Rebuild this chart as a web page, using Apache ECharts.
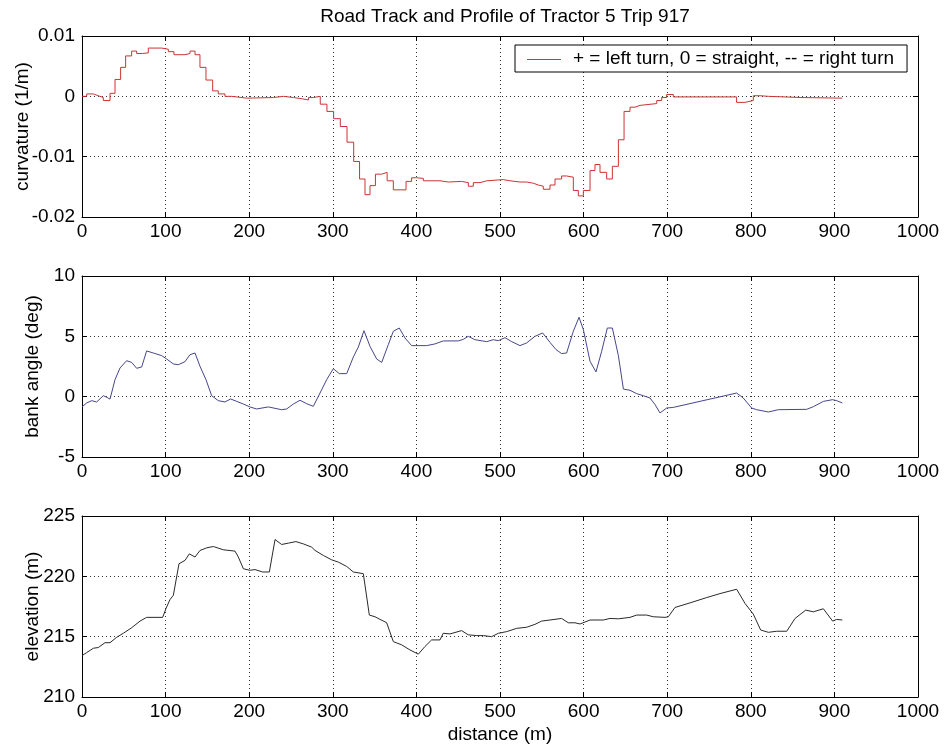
<!DOCTYPE html>
<html>
<head>
<meta charset="utf-8">
<script src="https://cdn.jsdelivr.net/npm/echarts@6/dist/echarts.min.js"></script>
<style>
html,body{margin:0;padding:0;background:#fff;}
#c{width:945px;height:752px;}
</style>
</head>
<body>
<div id="c"></div>
<script>
// ---- data ----
var curvDist = [0, 5.6, 13.6, 19.5, 25.5, 33.5, 39.5, 46.2, 52.2, 59.4, 65.4, 72.2, 79.3, 95.3, 103.3, 110, 123.2, 129.2, 135.2, 141.1, 148.3, 156.3, 163, 171, 179, 197, 229, 241, 253, 263, 271, 277, 285, 293, 301, 309, 317, 325, 332, 338.5, 344.5, 351, 358.5, 365, 372.4, 387.6, 394.3, 400.3, 408.3, 428.2, 438.2, 454.1, 462.1, 468.1, 476.1, 484.1, 503.9, 511.9, 523.9, 531.8, 539.8, 545.8, 551.8, 559.8, 565.8, 573.7, 579.7, 587.7, 593.7, 599.7, 607.7, 613.6, 619.6, 627.6, 634.4, 641.6, 648.4, 655.5, 661.5, 667.5, 687.5, 693.4, 699.4, 707.3, 783, 793, 803, 811, 821, 860, 909.5];
var curvVal = [0.0000, 0.0004, 0.0001, -0.0002, -0.0007, 0.0005, 0.0028, 0.0048, 0.0067, 0.0075, 0.0071, 0.0072, 0.0080, 0.0078, 0.0074, 0.0069, 0.0071, 0.0075, 0.0069, 0.0048, 0.0027, 0.0009, 0.0004, 0.0000, -0.0003, -0.0002, 0.0000, -0.0002, -0.0004, -0.0006, -0.0002, 0.0000, -0.0013, -0.0025, -0.0037, -0.0050, -0.0076, -0.0108, -0.0137, -0.0163, -0.0148, -0.0129, -0.0126, -0.0140, -0.0155, -0.0141, -0.0135, -0.0136, -0.0140, -0.0142, -0.0141, -0.0143, -0.0149, -0.0143, -0.0140, -0.0138, -0.0140, -0.0142, -0.0142, -0.0144, -0.0147, -0.0149, -0.0154, -0.0147, -0.0137, -0.0132, -0.0134, -0.0156, -0.0165, -0.0156, -0.0123, -0.0113, -0.0126, -0.0137, -0.0116, -0.0072, -0.0025, -0.0018, -0.0015, -0.0012, -0.0007, -0.0002, 0.0003, -0.0001, -0.0010, -0.0007, 0.0001, 0.0000, -0.0002, -0.0003, -0.0003];

var bankDist = [0, 5.6, 11.6, 17.5, 25.5, 29.5, 33.5, 39.5, 45.5, 53.4, 59.4, 65.4, 71.4, 77.3, 85.3, 95.3, 101.3, 109.3, 115.2, 123.2, 129.2, 135.2, 141.1, 148.3, 155.1, 163, 171, 177.8, 185, 193, 200.9, 208.9, 222.9, 238.8, 244.8, 252.8, 260.8, 268.7, 276.7, 284.7, 292.7, 300.6, 307.8, 316.6, 324.6, 330.6, 337.3, 344.5, 352.5, 358.5, 366.4, 372.4, 379.5, 386.4, 394.3, 412.2, 422.2, 432.1, 450.1, 456.1, 462.1, 470, 484.1, 492, 498, 506, 514, 523.9, 531.8, 541.8, 551, 559.8, 567, 573.7, 579.7, 587.7, 594.5, 599.7, 607.7, 614.8, 621.6, 628.4, 634.4, 641.6, 647.6, 655.5, 663.5, 671.5, 679.4, 685.5, 691.4, 699.4, 707.3, 783.1, 791, 801, 807, 821, 832.9, 866.8, 874.8, 886.8, 897.9, 902.7, 909.5];
var bankVal = [-0.85, -0.52, -0.33, -0.44, 0.08, -0.05, -0.2, 1.41, 2.38, 2.98, 2.84, 2.35, 2.46, 3.79, 3.62, 3.4, 3.12, 2.71, 2.65, 2.9, 3.48, 3.62, 2.52, 1.41, 0.08, -0.33, -0.44, -0.19, -0.39, -0.61, -0.85, -1.02, -0.85, -1.08, -1.02, -0.61, -0.3, -0.58, -0.8, 0.3, 1.41, 2.32, 1.91, 1.91, 3.29, 4.12, 5.47, 4.17, 3.12, 2.84, 4.31, 5.42, 5.69, 4.86, 4.23, 4.23, 4.37, 4.62, 4.62, 4.75, 5.0, 4.72, 4.56, 4.72, 4.64, 4.89, 4.56, 4.23, 4.45, 5.0, 5.28, 4.5, 3.9, 3.57, 3.62, 5.42, 6.58, 5.56, 2.93, 2.05, 3.76, 5.69, 5.69, 3.4, 0.63, 0.53, 0.25, 0.08, -0.11, -0.66, -1.35, -0.94, -0.89, 0.3, -0.11, -0.94, -1.08, -1.27, -1.08, -1.05, -0.83, -0.39, -0.25, -0.33, -0.52];

var elevDist = [0, 5.6, 13.6, 19.5, 27.5, 33.5, 41.5, 49.4, 59.4, 69.4, 77.3, 96.5, 100.5, 105.3, 109.3, 116, 123.2, 128.4, 135.2, 141.1, 149.1, 157.1, 169.1, 183, 187, 193, 200.9, 206.9, 216.1, 224.1, 230.9, 238.8, 246.8, 255.9, 264.7, 274.7, 278.7, 288.7, 298.6, 306.6, 316.6, 324.6, 336.5, 343.7, 350.5, 356.5, 364.4, 372.4, 382.4, 392.3, 402.3, 410.2, 418.2, 428.2, 432.1, 440.2, 454.1, 462.1, 472.1, 480.1, 490, 498, 508, 520, 531.8, 541.8, 549.8, 559.8, 573.7, 581.7, 589.7, 595.7, 607.7, 623.6, 631.6, 641.6, 655.5, 663.5, 675.4, 683.4, 697.4, 701.4, 709.3, 727.3, 747.2, 763.2, 783.1, 793.1, 803, 811.8, 821, 831, 843, 852.9, 865.7, 874.8, 886.8, 897.9, 902.7, 909.5];
var elevVal = [213.43, 213.68, 214.04, 214.1, 214.5, 214.5, 214.95, 215.28, 215.74, 216.29, 216.6, 216.6, 217.34, 218.08, 218.43, 221.04, 221.32, 221.86, 221.6, 222.14, 222.36, 222.47, 222.2, 222.09, 221.6, 220.63, 220.5, 220.56, 220.36, 220.36, 223.05, 222.64, 222.75, 222.88, 222.69, 222.42, 222.15, 221.73, 221.37, 221.18, 220.82, 220.36, 220.22, 216.79, 216.65, 216.43, 216.16, 214.59, 214.32, 213.9, 213.55, 214.18, 214.73, 214.73, 215.28, 215.23, 215.5, 215.15, 215.09, 215.09, 215.0, 215.28, 215.42, 215.69, 215.78, 216.02, 216.29, 216.38, 216.51, 216.15, 216.15, 216.05, 216.38, 216.38, 216.51, 216.48, 216.6, 216.79, 216.79, 216.65, 216.6, 216.65, 217.42, 217.8, 218.24, 218.57, 218.93, 217.75, 216.87, 215.55, 215.36, 215.45, 215.45, 216.51, 217.2, 217.06, 217.31, 216.29, 216.43, 216.38];

var xTicks = {min: 0, max: 1000, interval: 100};
var curvTicks = {min: -0.02, max: 0.01, interval: 0.01};
var bankTicks = {min: -5, max: 10, interval: 5};
var elevTicks = {min: 210, max: 225, interval: 5};

var titleText = 'Road Track and Profile of Tractor 5 Trip 917';
var legendText = '+ = left turn, 0 = straight, -- = right turn';
var xName = 'distance (m)';
var yNames = ['curvature (1/m)', 'bank angle (deg)', 'elevation (m)'];

function pairs(xs, ys) { var o = []; for (var i = 0; i < xs.length; i++) o.push([xs[i], ys[i]]); return o; }

var FONT = 'Liberation Sans, Arial, sans-serif';
var FS = 19;
var RED = '#cc3333', BLUE = '#46468c', DARK = '#2a2a2a';
var gridTops = [36, 276, 516];
var gridH = 181;

var grids = gridTops.map(function (t) {
  return {left: 82, top: t, width: 836, height: gridH, show: false, containLabel: false, outerBoundsMode: 'none'};
});

var xAxes = [], yAxes = [];
var yCfg = [curvTicks, bankTicks, elevTicks];
var nameGaps = [50, 40, 40];
for (var g = 0; g < 3; g++) {
  xAxes.push({
    type: 'value', gridIndex: g, position: 'bottom', min: xTicks.min, max: xTicks.max, interval: xTicks.interval,
    axisLine: {show: true, onZero: false, lineStyle: {color: '#000', width: 1}},
    axisTick: {show: true, inside: true, length: 5, lineStyle: {color: '#000'}},
    axisLabel: {color: '#000', fontSize: FS, fontFamily: FONT, margin: 5,
      formatter: function (v) { return String(v); }},
    splitLine: {show: true, lineStyle: {color: '#333', type: [1, 3], width: 1}},
    name: g === 2 ? xName : '', nameLocation: 'middle', nameGap: 28, nameMoveOverlap: false,
    nameTextStyle: {color: '#000', fontSize: FS, fontFamily: FONT}
  });
  xAxes.push({
    type: 'value', gridIndex: g, position: 'top', min: xTicks.min, max: xTicks.max, interval: xTicks.interval,
    axisLine: {show: true, onZero: false, lineStyle: {color: '#000', width: 1}},
    axisTick: {show: true, inside: true, length: 5, lineStyle: {color: '#000'}},
    axisLabel: {show: false}, splitLine: {show: false}
  });
  var yc = yCfg[g];
  yAxes.push({
    type: 'value', gridIndex: g, position: 'left', min: yc.min, max: yc.max, interval: yc.interval,
    axisLine: {show: true, onZero: false, lineStyle: {color: '#000', width: 1}},
    axisTick: {show: true, inside: true, length: 5, lineStyle: {color: '#000'}},
    axisLabel: {color: '#000', fontSize: FS, fontFamily: FONT, margin: 7,
      formatter: function (v) { return String(Math.round(v * 1000) / 1000); }},
    splitLine: {show: true, lineStyle: {color: '#333', type: [1, 3], width: 1}},
    name: yNames[g], nameLocation: 'middle', nameGap: nameGaps[g], nameRotate: 90, nameMoveOverlap: false,
    nameTextStyle: {color: '#000', fontSize: FS, fontFamily: FONT}
  });
  yAxes.push({
    type: 'value', gridIndex: g, position: 'right', min: yc.min, max: yc.max, interval: yc.interval,
    axisLine: {show: true, onZero: false, lineStyle: {color: '#000', width: 1}},
    axisTick: {show: true, inside: true, length: 5, lineStyle: {color: '#000'}},
    axisLabel: {show: false}, splitLine: {show: false}
  });
}

var chart = echarts.init(document.getElementById('c'), null, {renderer: 'canvas'});
chart.setOption({
  animation: false,
  backgroundColor: '#fff',
  color: [RED, BLUE, DARK],
  title: {text: titleText, left: 500, top: 2, textAlign: 'center',
    textStyle: {color: '#000', fontSize: FS, fontWeight: 'normal', fontFamily: FONT}},
  legend: {
    data: [{name: legendText, icon: 'none'}],
    left: 515, top: 45,
    padding: [4, 13, 4, 12], itemWidth: 0, itemHeight: 1,
    borderColor: '#000', borderWidth: 1, backgroundColor: '#fff',
    textStyle: {color: '#000', fontSize: FS, fontFamily: FONT, padding: [0, 0, 0, 41]}
  },
  graphic: [{
    type: 'line', z: 100, silent: true,
    shape: {x1: 527, y1: 59.5, x2: 561, y2: 59.5},
    style: {stroke: RED, lineWidth: 1}
  }],
  grid: grids,
  xAxis: xAxes,
  yAxis: yAxes,
  series: [
    {name: legendText, type: 'line', xAxisIndex: 0, yAxisIndex: 0, step: 'end', symbol: 'none', color: RED,
      data: pairs(curvDist, curvVal), lineStyle: {color: RED, width: 1}, itemStyle: {color: RED}},
    {name: 'bank', type: 'line', xAxisIndex: 2, yAxisIndex: 2, symbol: 'none', color: BLUE,
      data: pairs(bankDist, bankVal), lineStyle: {color: BLUE, width: 1}, itemStyle: {color: BLUE}},
    {name: 'elev', type: 'line', xAxisIndex: 4, yAxisIndex: 4, symbol: 'none', color: DARK,
      data: pairs(elevDist, elevVal), lineStyle: {color: DARK, width: 1}, itemStyle: {color: DARK}}
  ]
});
</script>
</body>
</html>
